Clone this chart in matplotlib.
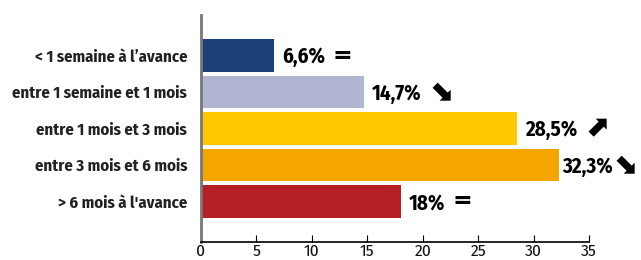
import matplotlib.pyplot as plt

# ── Data ─────────────────────────────────────────────────────────────────────
categories = ["< 1 semaine à l’avance", "entre 1 semaine et 1 mois",
              "entre 1 mois et 3 mois", "entre 3 mois et 6 mois",
              "> 6 mois à l'avance"]
values = [6.6, 14.7, 28.5, 32.3, 18]
labels = ["6,6%", "14,7%", "28,5%", "32,3%", "18%"]
trends = ["=", "⬊", "⬈", "⬊", "="]
colors = ["#1a4077", "#b0b5d2", "#ffc800", "#f5a500", "#b62025"]

FONT = ["Fira Sans Condensed", "Asap Condensed", "Roboto Condensed",
        "Archivo Narrow", "DejaVu Sans"]
plt.rcParams["font.family"] = FONT

fig = plt.figure(figsize=(6.41, 2.6), dpi=100)
ax = fig.add_axes([201 / 641, 1 - 242 / 260, 388 / 641, 227 / 260])

y = list(range(len(values)))
ax.barh(y, values, height=0.9, color=colors)
ax.set_ylim(len(values) - 1 + 1.11, -1.11)
ax.set_xlim(0, 35)

fig.canvas.draw()
for yi, v, lab, tr in zip(y, values, labels, trends):
    pad = 2 if v > 30 else 6
    t = ax.annotate(lab, (v, yi), xytext=(pad, -1), textcoords="offset points",
                    va="center", ha="left", fontsize=15, fontweight="bold")
    bb = t.get_window_extent(renderer=fig.canvas.get_renderer())
    x_end = ax.transData.inverted().transform((bb.x1, 0))[0]
    gap = 0 if v > 30 else 5
    size = 17 if tr == "=" else 21
    ax.annotate(tr, (x_end, yi), xytext=(gap, 0), textcoords="offset points",
                va="center", ha="left", fontsize=size, fontweight="bold",
                family=["DejaVu Sans"], annotation_clip=False)

ax.set_yticks(y)
ax.set_yticklabels(categories, fontsize=12, fontweight="bold", color="#222222")
ax.tick_params(axis="y", length=0, pad=10)
ax.set_xticks(range(0, 36, 5))
ax.tick_params(axis="x", direction="in", length=5, labelsize=12.5, pad=1,
               labelcolor="#111111")

for s in ("top", "right"):
    ax.spines[s].set_visible(False)
ax.spines["left"].set_color("#777777")
ax.spines["left"].set_linewidth(2)
ax.spines["bottom"].set_linewidth(1.2)

fig.savefig("out.png", dpi=100)
